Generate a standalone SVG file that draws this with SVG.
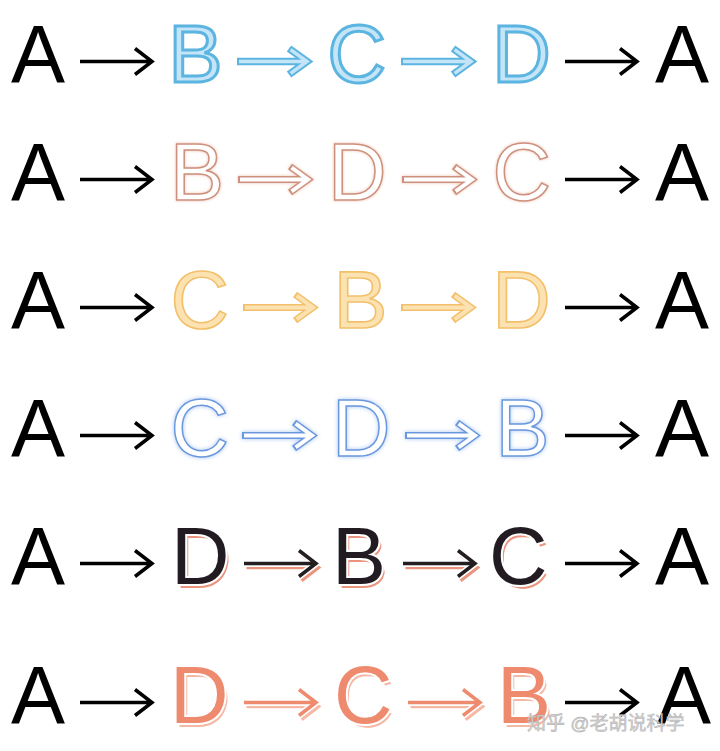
<svg xmlns="http://www.w3.org/2000/svg" width="720" height="751" viewBox="0 0 720 751">
<style>
.t{font-family:"Liberation Sans",Arial,sans-serif;font-size:81px}
.k{fill:#000}
.s1{fill:#c4e5f7;stroke:#5cb5e1;stroke-width:3}
.s2{fill:#fff;stroke:#cd907d;stroke-width:1.5;filter:url(#glow2)}
.s3{fill:#fde2b1;stroke:#f2c06b;stroke-width:1.6}
.s4{fill:#fff;stroke:#6b98de;stroke-width:1.5;filter:url(#glow4)}
.s5{fill:#231f20;stroke:#fff;stroke-width:4;paint-order:stroke;filter:url(#sh5)}
.s6{fill:#ee8a6d;stroke:#fff;stroke-width:4;paint-order:stroke;filter:url(#sh6)}
.ak{fill:none;stroke:#000;stroke-width:3.5}
.o1{fill:none;stroke:#5cb5e1;stroke-width:7.5}.i1{fill:none;stroke:#c4e5f7;stroke-width:3.5}
.o2{fill:none;stroke:#cd907d;stroke-width:7}.i2{fill:none;stroke:#fff;stroke-width:4}
.o3{fill:none;stroke:#f2c06b;stroke-width:7}.i3{fill:none;stroke:#fde2b1;stroke-width:4}
.o4{fill:none;stroke:#6b98de;stroke-width:7}.i4{fill:none;stroke:#fff;stroke-width:4}
.aw{fill:none;stroke:#fff;stroke-width:7}
.a5{fill:none;stroke:#231f20;stroke-width:3.5}.ah5{fill:none;stroke:#ea937d;stroke-width:3.5}
.a6{fill:none;stroke:#ee8a6d;stroke-width:3.5}.ah6{fill:none;stroke:#f5b8a4;stroke-width:3.5}
.wm{font-family:"Liberation Sans","Noto Sans CJK SC",sans-serif;font-size:19px;fill:#d2d2d2;stroke:#a8a8a8;stroke-width:0.4}
</style>
<defs>
<filter id="glow2" x="-20%" y="-20%" width="140%" height="140%">
<feGaussianBlur in="SourceAlpha" stdDeviation="1.8" result="b"/>
<feFlood flood-color="#eebfb0"/><feComposite in2="b" operator="in" result="g"/>
<feMerge><feMergeNode in="g"/><feMergeNode in="SourceGraphic"/></feMerge>
</filter>
<filter id="glow4" x="-20%" y="-20%" width="140%" height="140%">
<feGaussianBlur in="SourceAlpha" stdDeviation="2" result="b"/>
<feFlood flood-color="#a9c6f2"/><feComposite in2="b" operator="in" result="g"/>
<feMerge><feMergeNode in="g"/><feMergeNode in="SourceGraphic"/></feMerge>
</filter>
<filter id="sh5" x="-10%" y="-10%" width="130%" height="130%">
<feMorphology in="SourceAlpha" operator="erode" radius="2" result="e"/>
<feOffset in="e" dx="3" dy="3.5" result="o"/>
<feFlood flood-color="#ea937d"/><feComposite in2="o" operator="in" result="s"/>
<feMerge><feMergeNode in="s"/><feMergeNode in="SourceGraphic"/></feMerge>
</filter>
<filter id="sh6" x="-10%" y="-10%" width="130%" height="130%">
<feMorphology in="SourceAlpha" operator="erode" radius="2" result="e"/>
<feOffset in="e" dx="3" dy="3.5" result="o"/>
<feFlood flood-color="#f5b8a4"/><feComposite in2="o" operator="in" result="s"/>
<feMerge><feMergeNode in="s"/><feMergeNode in="SourceGraphic"/></feMerge>
</filter>
<path id="ab" d="M0 0H72M55-13L72 0L55 13"/>
<path id="ao" d="M0 0H70M52-13L70 0L52 13"/>
<path id="ai" d="M2 0H69M53.6-11.8L70 0L53.6 11.8"/>
</defs>
<rect width="720" height="751" fill="#fff"/>

<g id="connectors">
<use href="#ab" x="80" y="61.5" class="ak"/>
<use href="#ao" x="237" y="61.5" class="o1"/><use href="#ai" x="237" y="61.5" class="i1"/>
<use href="#ao" x="401" y="61.5" class="o1"/><use href="#ai" x="401" y="61.5" class="i1"/>
<use href="#ab" x="565" y="61.5" class="ak"/>

<use href="#ab" x="80" y="179.5" class="ak"/>
<g filter="url(#glow2)"><use href="#ao" x="238" y="179.5" class="o2"/><use href="#ai" x="238" y="179.5" class="i2"/></g>
<g filter="url(#glow2)"><use href="#ao" x="402" y="179.5" class="o2"/><use href="#ai" x="402" y="179.5" class="i2"/></g>
<use href="#ab" x="565" y="179.5" class="ak"/>

<use href="#ab" x="80" y="307.5" class="ak"/>
<use href="#ao" x="243" y="307.5" class="o3"/><use href="#ai" x="243" y="307.5" class="i3"/>
<use href="#ao" x="401" y="307.5" class="o3"/><use href="#ai" x="401" y="307.5" class="i3"/>
<use href="#ab" x="565" y="307.5" class="ak"/>

<use href="#ab" x="80" y="435.5" class="ak"/>
<g filter="url(#glow4)"><use href="#ao" x="242" y="435.5" class="o4"/><use href="#ai" x="242" y="435.5" class="i4"/></g>
<g filter="url(#glow4)"><use href="#ao" x="405" y="435.5" class="o4"/><use href="#ai" x="405" y="435.5" class="i4"/></g>
<use href="#ab" x="565" y="435.5" class="ak"/>

<use href="#ab" x="80" y="563.5" class="ak"/>
<use href="#ab" x="246.5" y="567.5" class="ah5"/><use href="#ab" x="244" y="563.5" class="aw"/><use href="#ab" x="244" y="563.5" class="a5"/>
<use href="#ab" x="405.5" y="567.5" class="ah5"/><use href="#ab" x="403" y="563.5" class="aw"/><use href="#ab" x="403" y="563.5" class="a5"/>
<use href="#ab" x="565" y="563.5" class="ak"/>

<use href="#ab" x="80" y="702.5" class="ak"/>
<use href="#ab" x="246.5" y="706.5" class="ah6"/><use href="#ab" x="244" y="702.5" class="aw"/><use href="#ab" x="244" y="702.5" class="a6"/>
<use href="#ab" x="410.5" y="706.5" class="ah6"/><use href="#ab" x="408" y="702.5" class="aw"/><use href="#ab" x="408" y="702.5" class="a6"/>
<use href="#ab" x="565" y="702.5" class="ak"/>
</g>

<g id="r1-A1"><text class="t k" x="11" y="82">A</text></g>
<g id="r1-B"><text class="t s1" x="168.6" y="82">B</text></g>
<g id="r1-C"><text class="t s1" x="327.6" y="82">C</text></g>
<g id="r1-D"><text class="t s1" x="492.3" y="82">D</text></g>
<g id="r1-A2"><text class="t k" x="655" y="82">A</text></g>

<g id="r2-A1"><text class="t k" x="11" y="200">A</text></g>
<g id="r2-B"><text class="t s2" x="170" y="200">B</text></g>
<g id="r2-D"><text class="t s2" x="328" y="200">D</text></g>
<g id="r2-C"><text class="t s2" x="492.6" y="200">C</text></g>
<g id="r2-A2"><text class="t k" x="655" y="200">A</text></g>

<g id="r3-A1"><text class="t k" x="11" y="328">A</text></g>
<g id="r3-C"><text class="t s3" x="170.6" y="328">C</text></g>
<g id="r3-B"><text class="t s3" x="333.6" y="328">B</text></g>
<g id="r3-D"><text class="t s3" x="492.3" y="328">D</text></g>
<g id="r3-A2"><text class="t k" x="655" y="328">A</text></g>

<g id="r4-A1"><text class="t k" x="11" y="456">A</text></g>
<g id="r4-C"><text class="t s4" x="170.6" y="456">C</text></g>
<g id="r4-D"><text class="t s4" x="332" y="456">D</text></g>
<g id="r4-B"><text class="t s4" x="495.6" y="456">B</text></g>
<g id="r4-A2"><text class="t k" x="655" y="456">A</text></g>

<g id="r5-A1"><text class="t k" x="11" y="584">A</text></g>
<g id="r5-D"><text class="t s5" x="171" y="584">D</text></g>
<g id="r5-B"><text class="t s5" x="332" y="584">B</text></g>
<g id="r5-C"><text class="t s5" x="489" y="584">C</text></g>
<g id="r5-A2"><text class="t k" x="655" y="584">A</text></g>

<g id="r6-A1"><text class="t k" x="11" y="723">A</text></g>
<g id="r6-D"><text class="t s6" x="170" y="723">D</text></g>
<g id="r6-C"><text class="t s6" x="334" y="723">C</text></g>
<g id="r6-B"><text class="t s6" x="497" y="723">B</text></g>
<g id="r6-A2"><text class="t k" x="657" y="723">A</text></g>

<g id="watermark"><text class="wm" x="527" y="730">知乎 @老胡说科学</text></g>
</svg>
